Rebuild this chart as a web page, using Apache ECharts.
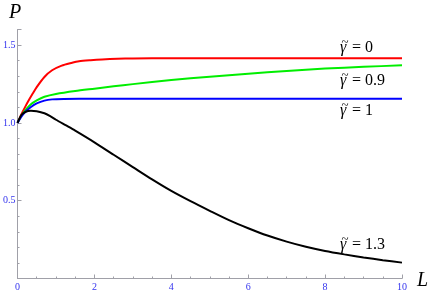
<!DOCTYPE html>
<html><head><meta charset="utf-8">
<script src="https://cdn.jsdelivr.net/npm/echarts@6/dist/echarts.min.js"></script>
<style>html,body{margin:0;padding:0;background:#fff}#c{width:430px;height:294px}</style>
</head><body><div id="c"></div>
<script>
// Data
const redL   = [0,0.1,0.2,0.3,0.4,0.5,0.7,0.9,1.15,1.4,1.6,1.9,2.2,2.6,3,4,6,8,10];
const redP   = [1,1.055,1.103,1.148,1.19,1.23,1.295,1.338,1.368,1.385,1.396,1.403,1.408,1.412,1.414,1.415,1.415,1.415,1.415];
const greenL = [0,0.1,0.2,0.35,0.5,0.7,1,1.5,2,2.5,3,4,5,6,7,8,9,10];
const greenP = [1,1.045,1.08,1.12,1.145,1.168,1.186,1.205,1.22,1.235,1.249,1.275,1.297,1.316,1.334,1.349,1.36,1.37];
const blueL  = [0,0.1,0.2,0.35,0.5,0.7,0.9,1.2,1.6,2,10];
const blueP  = [1,1.04,1.07,1.102,1.125,1.143,1.151,1.154,1.155,1.155,1.155];
const blackL = [0,0.1,0.2,0.35,0.5,0.7,0.85,1,1.25,1.5,2,2.5,3,3.5,4,4.5,5,5.5,6,6.5,7,7.5,8,8.5,9,9.5,10];
const blackP = [1,1.05,1.07,1.078,1.075,1.062,1.043,1.02,0.985,0.95,0.875,0.795,0.716,0.637,0.563,0.497,0.435,0.375,0.323,0.276,0.237,0.204,0.177,0.155,0.135,0.118,0.102];
const curveLabels = ['0','0.9','1','1.3'];
const xTicks = [0,2,4,6,8,10];
const yTicks = [0.5,1.0,1.5];

const pairs = (xs, ys) => xs.map((x,i)=>[x,ys[i]]);
const serif = '"Liberation Serif","DejaVu Serif",serif';
const axisCol = '#a0a0a8';
const labCol = '#3333ee';

const chart = echarts.init(document.getElementById('c'), null, {renderer:'canvas'});
const mkSeries = (xs, ys, color) => ({
  type:'line', data:pairs(xs,ys), showSymbol:false, smooth:0.25,
  lineStyle:{color:color, width:2}, animation:false, clip:false
});
const lbl = (txt, x, y) => ({
  type:'group', left:x, top:y,
  children:[
    {type:'text', x:1.5, y:0, style:{text:'~', font:'13px '+serif, fill:'#000'}},
    {type:'text', x:0, y:4, style:{text:'γ', font:'italic 16px '+serif, fill:'#000'}},
    {type:'text', x:8, y:4, style:{text:' = '+txt, font:'16px '+serif, fill:'#000'}}
  ]
});
chart.setOption({
  animation:false,
  grid:{left:15.7, right:28, top:29.5, bottom:15.5, containLabel:false},
  xAxis:{type:'value', min:0, max:10, interval:2,
    axisLine:{show:true, onZero:true, lineStyle:{color:axisCol, width:1}},
    axisTick:{show:true, inside:true, length:4, lineStyle:{color:axisCol}},
    minorTick:{show:true, splitNumber:4, length:2, lineStyle:{color:axisCol}},
    splitLine:{show:false},
    axisLabel:{color:labCol, fontFamily:serif, fontSize:10, margin:4,
      formatter:v=> xTicks.includes(v) ? String(v) : ''}
  },
  yAxis:{type:'value', min:0, max:1.6, interval:0.5,
    axisLine:{show:true, lineStyle:{color:axisCol, width:1}},
    axisTick:{show:true, inside:true, length:4, lineStyle:{color:axisCol}},
    minorTick:{show:true, splitNumber:5, length:2, lineStyle:{color:axisCol}},
    splitLine:{show:false},
    axisLabel:{color:labCol, fontFamily:serif, fontSize:10, margin:2, showMaxLabel:false,
      formatter:v=>{const t=yTicks.find(u=>Math.abs(u-v)<1e-9); return t===undefined?'':t.toFixed(1);}}
  },
  series:[
    mkSeries(redL, redP, '#ff0000'),
    mkSeries(greenL, greenP, '#00ee00'),
    mkSeries(blueL, blueP, '#0000ff'),
    mkSeries(blackL, blackP, '#000000')
  ],
  graphic:[
    {type:'text', left:9, top:3, style:{text:'P', font:'italic 20px '+serif, fill:'#000'}},
    {type:'text', left:417, top:271, style:{text:'L', font:'italic 20px '+serif, fill:'#000'}},
    lbl(curveLabels[0], 340, 36),
    lbl(curveLabels[1], 340, 69),
    lbl(curveLabels[2], 340, 99),
    lbl(curveLabels[3], 340, 233)
  ]
});
</script></body></html>
